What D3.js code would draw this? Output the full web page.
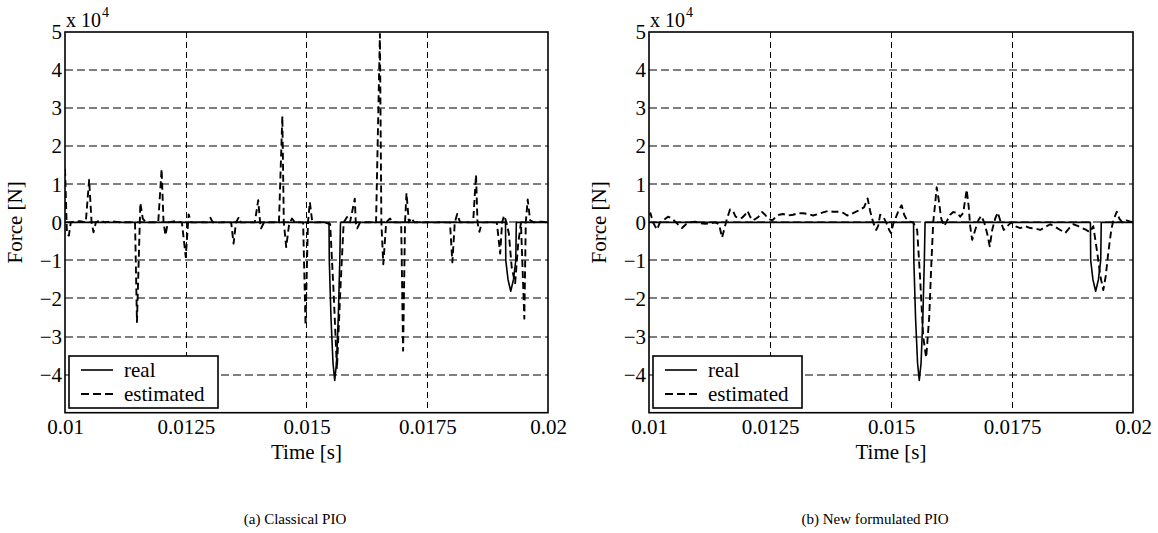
<!DOCTYPE html>
<html>
<head>
<meta charset="utf-8">
<script src="https://cdn.jsdelivr.net/npm/d3@7"></script>
<style>
  body { margin: 0; background: #fff; }
  svg { display: block; }
  text { font-family: "Liberation Serif", "Times New Roman", serif; fill: #000; }
</style>
</head>
<body>
<svg id="chart" width="1158" height="533"></svg>
<script>
// force values are in units of 1e4 N (axis shows "x 10^4")
var timeTicks = [0.01, 0.0125, 0.015, 0.0175, 0.02];
var timeTickLabels = ['0.01', '0.0125', '0.015', '0.0175', '0.02'];
var forceTicks = [-4, -3, -2, -1, 0, 1, 2, 3, 4, 5];
var forceTickLabels = ['\u22124', '\u22123', '\u22122', '\u22121', '0', '1', '2', '3', '4', '5'];
var panelCaptions = ['(a) Classical PIO', '(b) New formulated PIO'];
var legendLabels = ['real', 'estimated'];

// [time s, force]
var realForce = [
  [0.01, 0], [0.015466, 0], [0.015472, -1.0], [0.015507, -2.5], [0.015549, -3.7],
  [0.015584, -4.15], [0.015621, -3.7], [0.015658, -2.5], [0.015689, -1.0], [0.015704, 0],
  [0.019120, 0], [0.019126, -1.0], [0.019172, -1.5], [0.019228, -1.81], [0.019286, -1.5],
  [0.019333, -1.0], [0.019344, 0], [0.02, 0]
];

var estClassical = [
  [0.01000, 1.4], [0.01004, -0.3], [0.01008, -0.35], [0.01012, 0], [0.01031, 0.03], [0.01043, 0],
  [0.01050, 1.12], [0.01055, 0], [0.01059, -0.26], [0.01064, 0], [0.01072, 0.05], [0.01083, 0],
  [0.01097, 0.03], [0.01114, 0], [0.01135, 0], [0.01145, 0], [0.01149, -2.62], [0.01156, 0.51],
  [0.01161, 0.1], [0.01168, 0], [0.01180, 0], [0.01193, 0], [0.01200, 1.4], [0.01204, 0],
  [0.01208, -0.34], [0.01213, 0], [0.01228, 0.03], [0.01242, 0], [0.01250, -0.91], [0.01256, 0.21],
  [0.01261, 0], [0.01280, 0], [0.01294, 0], [0.01301, 0.12], [0.01306, 0], [0.01331, 0],
  [0.01344, 0], [0.01349, -0.56], [0.01354, 0], [0.01360, 0.14], [0.01364, 0], [0.01383, 0],
  [0.01393, 0], [0.01400, 0.58], [0.01404, 0], [0.01406, -0.16], [0.01412, 0], [0.01429, 0],
  [0.01443, 0], [0.01450, 2.79], [0.01453, 0], [0.01458, -0.65], [0.01464, -0.05], [0.01470, 0.1],
  [0.01476, 0], [0.01487, 0], [0.01493, 0], [0.01498, -2.7], [0.01503, 0], [0.01507, 0.53],
  [0.01512, 0], [0.01524, 0], [0.01538, 0], [0.01549, -0.05], [0.01556, -1.8], [0.01563, -3.85],
  [0.01570, -1.8], [0.01577, 0], [0.01584, 0.14], [0.01590, 0], [0.01600, 0.62], [0.01602, 0],
  [0.01605, -0.16], [0.01611, 0], [0.01627, 0], [0.01644, 0], [0.01652, 4.95], [0.01655, 0],
  [0.01659, -1.1], [0.01665, 0], [0.01673, 0.1], [0.01679, 0], [0.01689, 0], [0.01696, 0],
  [0.01700, -3.37], [0.01704, 0], [0.01707, 0.77], [0.01712, 0], [0.01717, 0.12], [0.01723, 0],
  [0.01745, 0], [0.01770, 0], [0.01787, 0], [0.01797, 0], [0.01802, -1.05], [0.01807, 0],
  [0.01812, 0.22], [0.01818, 0], [0.01834, 0], [0.01845, 0], [0.01851, 1.25], [0.01854, 0],
  [0.01858, -0.25], [0.01863, 0], [0.01880, 0], [0.01894, 0], [0.01901, -0.82], [0.01905, 0],
  [0.01909, 0.18], [0.01914, 0], [0.01919, -0.3], [0.01925, -1.2], [0.01932, -1.6], [0.01938, -0.6],
  [0.01944, 0], [0.01951, -2.53], [0.01954, 0], [0.01958, 0.6], [0.01963, 0.05], [0.01971, 0],
  [0.01986, 0.02], [0.02000, 0]
];

var estNew = [
  [0.010000, 0.2], [0.010031, 0.24], [0.010083, 0.0], [0.010165, -0.19], [0.010227, 0.0],
  [0.010289, 0.05], [0.010393, 0.15], [0.010476, 0.1], [0.010558, 0.0], [0.010620, -0.08],
  [0.010682, -0.15], [0.010765, -0.05], [0.010848, 0.0], [0.010951, 0.02], [0.011054, -0.02],
  [0.011158, -0.04], [0.011261, -0.03], [0.011364, 0.0], [0.011447, -0.05], [0.011509, -0.4],
  [0.011561, -0.15], [0.011613, 0.1], [0.011675, 0.34], [0.011737, 0.3], [0.011788, 0.15],
  [0.011861, 0.1], [0.011923, 0.12], [0.011985, 0.2], [0.012036, 0.3], [0.012088, 0.15],
  [0.012150, 0.05], [0.012212, 0.1], [0.012264, 0.15], [0.012336, 0.27], [0.012398, 0.2],
  [0.012460, 0.1], [0.012543, 0.05], [0.012605, 0.12], [0.012688, 0.2], [0.012770, 0.22],
  [0.012874, 0.18], [0.012977, 0.2], [0.013080, 0.24], [0.013184, 0.24], [0.013287, 0.22],
  [0.013391, 0.18], [0.013494, 0.22], [0.013597, 0.26], [0.013701, 0.3], [0.013804, 0.28],
  [0.013907, 0.28], [0.014011, 0.25], [0.014094, 0.18], [0.014176, 0.22], [0.014280, 0.28],
  [0.014362, 0.33], [0.014445, 0.4], [0.014517, 0.63], [0.014569, 0.3], [0.014631, 0.0],
  [0.014693, -0.2], [0.014734, -0.1], [0.014776, 0.2], [0.014838, 0.15], [0.014900, 0.0],
  [0.014962, -0.2], [0.015003, -0.29], [0.015044, -0.05], [0.015107, 0.15], [0.015169, 0.35],
  [0.015220, 0.45], [0.015272, 0.2], [0.015334, 0.05], [0.015396, 0.02], [0.015458, 0.0],
  [0.015541, -0.2], [0.015603, -1.5], [0.015665, -3.0], [0.015727, -3.55], [0.015789, -2.5],
  [0.015830, -1.2], [0.015872, 0.0], [0.015913, 0.5], [0.015944, 0.92], [0.015985, 0.6],
  [0.016037, 0.1], [0.016099, -0.1], [0.016161, 0.05], [0.016223, 0.2], [0.016285, 0.27],
  [0.016368, 0.25], [0.016430, 0.15], [0.016492, 0.25], [0.016564, 0.86], [0.016606, 0.4],
  [0.016636, -0.1], [0.016678, -0.46], [0.016740, -0.2], [0.016802, 0.05], [0.016864, 0.17],
  [0.016926, 0.0], [0.016988, -0.3], [0.017040, -0.63], [0.017091, -0.2], [0.017153, 0.1],
  [0.017205, 0.26], [0.017257, 0.05], [0.017329, -0.2], [0.017401, -0.1], [0.017484, 0.0],
  [0.017567, -0.1], [0.017670, -0.15], [0.017773, -0.1], [0.017877, -0.15], [0.017980, -0.16],
  [0.018084, -0.2], [0.018187, -0.12], [0.018290, -0.05], [0.018394, -0.12], [0.018497, -0.2],
  [0.018600, -0.28], [0.018683, -0.15], [0.018766, -0.05], [0.018869, -0.1], [0.018952, -0.15],
  [0.019035, -0.2], [0.019107, -0.26], [0.019179, -0.1], [0.019262, -0.8], [0.019324, -1.4],
  [0.019386, -1.78], [0.019438, -1.4], [0.019489, -0.8], [0.019551, -0.2], [0.019593, 0.05],
  [0.019665, 0.28], [0.019717, 0.1], [0.019779, 0.0], [0.019862, 0.05], [0.019944, 0.02],
  [0.020000, 0.0]
];

var svg = d3.select('#chart');

var panels = [
  { left: 65, top: 32, width: 483, height: 380.7, est: estClassical, caption: panelCaptions[0], capX: 295 },
  { left: 649, top: 32, width: 484, height: 380.7, est: estNew, caption: panelCaptions[1], capX: 875 }
];

panels.forEach(function (p, pi) {
  var x = d3.scaleLinear().domain([0.01, 0.02]).range([0, p.width]);
  var y = d3.scaleLinear().domain([-5, 5]).range([p.height, 0]);

  var g = svg.append('g').attr('transform', 'translate(' + p.left + ',' + p.top + ')');

  g.append('clipPath').attr('id', 'clip' + pi)
    .append('rect').attr('width', p.width).attr('height', p.height);

  // grid
  g.append('g').selectAll('line').data(forceTicks.filter(function (d) { return d > -5 && d < 5; }))
    .enter().append('line')
    .attr('x1', 0).attr('x2', p.width)
    .attr('y1', function (d) { return Math.round(y(d)); })
    .attr('y2', function (d) { return Math.round(y(d)); })
    .attr('stroke', '#555').attr('stroke-width', 1.3).attr('stroke-dasharray', '8,4');

  g.append('g').selectAll('line').data(timeTicks.slice(1, -1))
    .enter().append('line')
    .attr('x1', function (d) { return Math.round(x(d)) + 0.5; })
    .attr('x2', function (d) { return Math.round(x(d)) + 0.5; })
    .attr('y1', 0).attr('y2', p.height)
    .attr('stroke', '#000').attr('stroke-width', 1).attr('stroke-dasharray', '6,4');

  var line = d3.line()
    .x(function (d) { return x(d[0]); })
    .y(function (d) { return y(d[1]); });

  var plot = g.append('g').attr('clip-path', 'url(#clip' + pi + ')');

  plot.append('path').datum(p.est).attr('d', line)
    .attr('fill', 'none').attr('stroke', '#000').attr('stroke-width', 1.9)
    .attr('stroke-dasharray', '7,4').attr('stroke-linejoin', 'round');

  plot.append('path').datum(realForce).attr('d', line)
    .attr('fill', 'none').attr('stroke', '#000').attr('stroke-width', 1.6)
    .attr('stroke-linejoin', 'round');

  // box
  g.append('rect').attr('width', p.width).attr('height', p.height)
    .attr('fill', 'none').attr('stroke', '#000').attr('stroke-width', 1.6);

  // axes
  var xAxis = d3.axisBottom(x).tickValues(timeTicks).tickSize(0).tickPadding(6)
    .tickFormat(function (d, i) { return timeTickLabels[i]; });
  var yAxis = d3.axisLeft(y).tickValues(forceTicks).tickSize(0).tickPadding(3)
    .tickFormat(function (d, i) { return forceTickLabels[i]; });

  var xG = g.append('g').attr('transform', 'translate(0,' + p.height + ')').call(xAxis);
  var yG = g.append('g').call(yAxis);
  [xG, yG].forEach(function (a) {
    a.select('.domain').remove();
    a.selectAll('text').attr('font-size', 21).attr('font-family', '"Liberation Serif", serif');
  });

  // exponent
  g.append('text').attr('x', 1).attr('y', -5).attr('font-size', 20).text('x 10');
  g.append('text').attr('x', 37).attr('y', -15).attr('font-size', 14).text('4');

  g.append('text').attr('x', p.width / 2).attr('y', p.height + 45.8)
    .attr('text-anchor', 'middle').attr('font-size', 21).text('Time [s]');

  g.append('text').attr('transform', 'translate(' + (-43) + ',' + (p.height / 2) + ') rotate(-90)')
    .attr('text-anchor', 'middle').attr('font-size', 21).text('Force [N]');

  // legend
  var lg = g.append('g').attr('transform', 'translate(4,' + (p.height - 56.7) + ')');
  lg.append('rect').attr('width', 149).attr('height', 52)
    .attr('fill', '#fff').attr('stroke', '#000').attr('stroke-width', 1.6);
  lg.append('line').attr('x1', 12).attr('x2', 44).attr('y1', 14).attr('y2', 14)
    .attr('stroke', '#000').attr('stroke-width', 1.6);
  lg.append('line').attr('x1', 12).attr('x2', 44).attr('y1', 38).attr('y2', 38)
    .attr('stroke', '#000').attr('stroke-width', 1.8).attr('stroke-dasharray', '8,4');
  lg.append('text').attr('x', 55).attr('y', 21).attr('font-size', 21).text(legendLabels[0]);
  lg.append('text').attr('x', 55).attr('y', 45).attr('font-size', 21).text(legendLabels[1]);

  svg.append('text').attr('x', p.capX).attr('y', 524).attr('text-anchor', 'middle')
    .attr('font-size', 15).text(p.caption);
});
</script>
</body>
</html>
